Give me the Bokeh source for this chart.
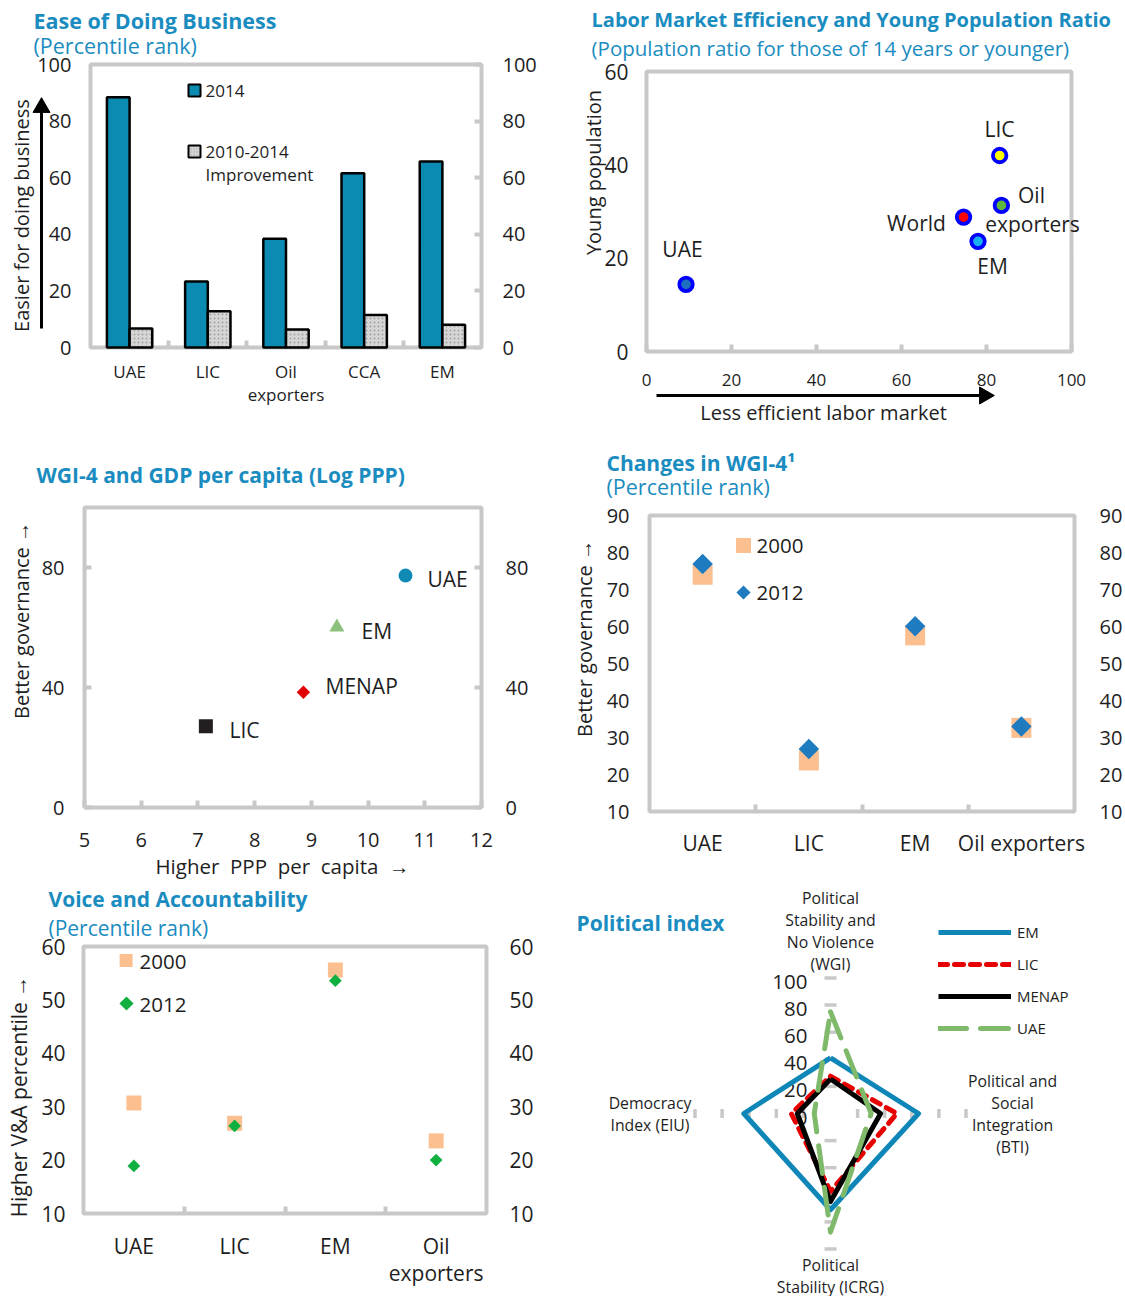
import numpy as np
from bokeh.plotting import figure
from bokeh.models import Range1d, LinearAxis, FixedTicker, Label, Legend, LegendItem
from bokeh.layouts import row, column
from bokeh.embed import file_html
from bokeh.resources import INLINE
from bokeh.core.properties import value

# ---------------------------------------------------------------- data
# Panel 1: Ease of Doing Business (percentile rank)
edb_categories = ["UAE", "LIC", "Oil\nexporters", "CCA", "EM"]
edb_2014 = [88.4, 23.3, 38.4, 61.6, 65.7]
edb_improvement = [6.7, 12.8, 6.4, 11.5, 8.0]
edb_ticks = [0, 20, 40, 60, 80, 100]

# Panel 2: Labor market efficiency vs young population ratio
lab_names = ["UAE", "LIC", "Oil exporters", "World", "EM"]
lab_efficiency = [9.3, 83.1, 83.5, 74.6, 78.0]
lab_young = [14.4, 42.0, 31.3, 28.8, 23.6]
lab_x_ticks = [0, 20, 40, 60, 80, 100]
lab_y_ticks = [0, 20, 40, 60]

# Panel 3: WGI-4 vs GDP per capita (log PPP)
wgi_names = ["UAE", "EM", "MENAP", "LIC"]
wgi_gdp = [10.66, 9.45, 8.86, 7.14]
wgi_gov = [77.3, 60.1, 38.4, 27.1]
wgi_x_ticks = [5, 6, 7, 8, 9, 10, 11, 12]
wgi_y_ticks = [0, 40, 80]

# Panel 4: Changes in WGI-4 (percentile rank)
chg_categories = ["UAE", "LIC", "EM", "Oil exporters"]
chg_2000 = [74.0, 23.8, 57.6, 32.6]
chg_2012 = [76.9, 26.9, 60.1, 33.0]
chg_ticks = [10, 20, 30, 40, 50, 60, 70, 80, 90]

# Panel 5: Voice and Accountability (percentile rank)
va_categories = ["UAE", "LIC", "EM", "Oil\nexporters"]
va_2000 = [30.7, 26.9, 55.6, 23.6]
va_2012 = [18.9, 26.4, 53.6, 20.0]
va_ticks = [10, 20, 30, 40, 50, 60]

# Panel 6: Political index (radar)
pol_axes = ["Political\nStability and\nNo Violence\n(WGI)",
            "Political and\nSocial\nIntegration\n(BTI)",
            "Political\nStability (ICRG)",
            "Democracy\nIndex (EIU)"]
pol_series = ["EM", "LIC", "MENAP", "UAE"]
pol_em = [41, 65, 71, 64]
pol_lic = [27.5, 49, 57.5, 29]
pol_menap = [25.5, 37, 65, 24.5]
pol_uae = [75, 30, 87.5, 12]
pol_ticks = [0, 20, 40, 60, 80, 100]

# ---------------------------------------------------------------- style
FONT = "Open Sans"
DARK = "#1e1e1e"
TITLE_C = "#1a8cc0"
FRAME_C = "#c8c8c8"
TEAL = "#0b8bb1"
PEACH = "#fcc090"
NB = "\u00a0"


class Fr:
    """Canvas of one panel plus the position of its plot box (page pixels)."""
    def __init__(self, canvas, box, xb, yb):
        self.ox, self.oy, self.w, self.h = canvas
        self.L, self.T, self.R, self.B = box
        self.xb, self.yb = xb, yb

    def x(self, px):
        return self.xb[0] + (px - self.L) * (self.xb[1] - self.xb[0]) / (self.R - self.L)

    def y(self, py):
        return self.yb[0] + (self.B - py) * (self.yb[1] - self.yb[0]) / (self.B - self.T)


def make_fig(F, box=True):
    kw = dict(width=F.w, height=F.h,
              x_range=Range1d(F.x(F.ox), F.x(F.ox + F.w)),
              y_range=Range1d(F.y(F.oy + F.h), F.y(F.oy)),
              min_border=0, min_border_left=0, min_border_right=0,
              min_border_top=0, min_border_bottom=0, title=None,
              output_backend="svg", toolbar_location=None, tools="")
    if not box:
        kw.update(x_axis_location=None, y_axis_location=None)
    p = figure(**kw)
    p.outline_line_color = None
    p.grid.visible = False
    p.background_fill_color = "white"
    p.border_fill_color = "white"
    if box:
        p.quad(left=[F.xb[0]], right=[F.xb[1]], bottom=[F.yb[0]], top=[F.yb[1]],
               fill_color=None, line_color=FRAME_C, line_width=4)
        p.xaxis[0].fixed_location = F.yb[0]
        p.yaxis[0].fixed_location = F.xb[0]
    return p


def right_axis(p, F):
    ax = LinearAxis(fixed_location=F.xb[1])
    p.add_layout(ax, "right")
    return ax


def style_axis(ax, size, standoff, ticks, labels=None, tick_in=0, minor=None, lh=1.0):
    ax.ticker = FixedTicker(ticks=list(ticks), minor_ticks=list(minor) if minor else [])
    ax.axis_line_color = None
    ax.major_tick_out = 0
    ax.major_tick_in = tick_in
    ax.major_tick_line_color = FRAME_C if tick_in else None
    ax.major_tick_line_width = 4
    ax.minor_tick_out = 0
    ax.minor_tick_in = 7 if minor else 0
    ax.minor_tick_line_color = FRAME_C if minor else None
    ax.minor_tick_line_width = 4
    ax.major_label_standoff = standoff
    ax.major_label_text_font = FONT
    ax.major_label_text_font_size = f"{size}px"
    ax.major_label_text_color = DARK
    ax.major_label_text_line_height = lh
    if labels is not None:
        ax.major_label_overrides = {int(t): l for t, l in zip(ticks, labels)}


def label(p, F, px, py, text, size, color=DARK, bold=False, align="left", angle=0.0):
    p.add_layout(Label(x=F.x(px), y=F.y(py), text=text, text_font=FONT,
                       text_font_size=f"{size}px", text_color=color,
                       text_font_style="bold" if bold else "normal",
                       text_align=align, text_baseline="middle", angle=angle))


def arrow(p, F, x0, y0, x1, y1, head_angle, head_center):
    p.segment([F.x(x0)], [F.y(y0)], [F.x(x1)], [F.y(y1)], line_color="black", line_width=3)
    p.scatter([F.x(head_center[0])], [F.y(head_center[1])], marker="triangle", size=17,
              angle=head_angle, fill_color="black", line_color="black", line_width=1)


# ---------------------------------------------------------------- panel 1
F1 = Fr((0, 0, 562, 440), (90, 64, 481, 347), (-0.5, 4.5), (0, 100))
p1 = make_fig(F1)
x1 = np.arange(len(edb_categories))
p1.vbar(x=x1 - 0.145, top=edb_2014, width=0.29, fill_color=TEAL,
        line_color="black", line_width=2.5)
p1.vbar(x=x1 + 0.145, top=edb_improvement, width=0.29, fill_color="#d6d6d6",
        hatch_pattern=".", hatch_color="#a4a4a4", hatch_scale=4, hatch_weight=1,
        line_color="black", line_width=2.5)
style_axis(p1.xaxis[0], 17, 12, x1, labels=edb_categories,
           minor=[0.5, 1.5, 2.5, 3.5], lh=1.04)
style_axis(p1.yaxis[0], 20, 19, edb_ticks)
style_axis(right_axis(p1, F1), 20, 21, edb_ticks, tick_in=7)
# legend keys
p1.scatter([F1.x(194)], [F1.y(90)], marker="square", size=12, fill_color=TEAL,
           line_color="black", line_width=2)
p1.scatter([F1.x(194)], [F1.y(151)], marker="square", size=12, fill_color="#d6d6d6",
           hatch_pattern=".", hatch_color="#a4a4a4", hatch_scale=3,
           line_color="black", line_width=2)
label(p1, F1, 205, 90, "2014", 17)
label(p1, F1, 205, 151, "2010-2014", 17)
label(p1, F1, 205, 174, "Improvement", 17)
label(p1, F1, 33, 20, "Ease of Doing Business", 21.5, TITLE_C, bold=True)
label(p1, F1, 33, 45, "(Percentile rank)", 21.5, TITLE_C)
label(p1, F1, 21, 215, "Easier for doing business", 20, align="center", angle=np.pi / 2)
arrow(p1, F1, 41, 328, 41, 108, 0.0, (41, 107))

# ---------------------------------------------------------------- panel 2
F2 = Fr((562, 0, 563, 440), (646, 71, 1071, 351), (0, 100), (0, 60))
p2 = make_fig(F2)
lab_inner = ["#1f6fc0", "#ffff00", "#5cb83c", "#ff0000", "#18b0f0"]
p2.scatter(lab_efficiency, lab_young, size=13.5, fill_color=lab_inner,
           line_color="#0000ff", line_width=3.8)
style_axis(p2.xaxis[0], 17, 22, lab_x_ticks, tick_in=7)
style_axis(p2.yaxis[0], 21, 18, lab_y_ticks)
label(p2, F2, 591, 19, "Labor Market Efficiency and Young Population Ratio", 20, TITLE_C, bold=True)
label(p2, F2, 591, 47, "(Population ratio for those of 14 years or younger)", 20.5, TITLE_C)
label(p2, F2, 593, 172, "Young population", 20, align="center", angle=np.pi / 2)
label(p2, F2, 823, 412, "Less efficient labor market", 20, align="center")
arrow(p2, F2, 656, 395, 982, 395, -np.pi / 2, (984, 395))
label(p2, F2, 682, 248, "UAE", 21, align="center")
label(p2, F2, 999, 128, "LIC", 21, align="center")
label(p2, F2, 1031, 194, "Oil", 21, align="center")
label(p2, F2, 1032, 223, "exporters", 21, align="center")
label(p2, F2, 916, 222, "World", 21, align="center")
label(p2, F2, 992, 265, "EM", 21, align="center")

# ---------------------------------------------------------------- panel 3
F3 = Fr((0, 440, 562, 440), (84, 507, 481, 807), (5, 12), (0, 100))
p3 = make_fig(F3)
p3.scatter(wgi_gdp, wgi_gov,
           marker=["circle", "triangle", "square", "square"],
           size=[14, 15, 9.5, 14], angle=[0, 0, np.pi / 4, 0],
           fill_color=["#0e8ab5", "#8cc07c", "#e00000", "#231f20"], line_color=None)
style_axis(p3.xaxis[0], 20, 25, wgi_x_ticks, tick_in=7)
style_axis(p3.yaxis[0], 20, 20, wgi_y_ticks, tick_in=7)
style_axis(right_axis(p3, F3), 20, 24, wgi_y_ticks, tick_in=7)
label(p3, F3, 36, 474, "WGI-4 and GDP per capita (Log PPP)", 21, TITLE_C, bold=True)
label(p3, F3, 282, 865, NB.join(["Higher", "", "PPP", "", "per", "", "capita", "", "\u2192"]),
      20.5, align="center")
label(p3, F3, 21, 620, "Better governance \u2192", 20, align="center", angle=np.pi / 2)
label(p3, F3, 427, 578, "UAE", 21)
label(p3, F3, 361, 630, "EM", 21)
label(p3, F3, 325, 685, "MENAP", 21)
label(p3, F3, 229, 729, "LIC", 21)

# ---------------------------------------------------------------- panel 4
F4 = Fr((562, 440, 563, 440), (649, 515, 1074, 811), (-0.5, 3.5), (10, 90))
p4 = make_fig(F4)
x4 = np.arange(len(chg_categories))
p4.scatter(x4, chg_2000, marker="square", size=20, fill_color=PEACH, line_color=None)
p4.scatter(x4, chg_2012, marker="square", angle=np.pi / 4, size=14.5,
           fill_color="#1f7bc0", line_color=None)
style_axis(p4.xaxis[0], 21, 17, x4, labels=chg_categories, minor=[0.5, 1.5, 2.5])
style_axis(p4.yaxis[0], 20, 20, chg_ticks)
style_axis(right_axis(p4, F4), 20, 25, chg_ticks)
p4.scatter([F4.x(743)], [F4.y(545)], marker="square", size=15, fill_color=PEACH, line_color=None)
p4.scatter([F4.x(743)], [F4.y(592)], marker="square", angle=np.pi / 4, size=10,
           fill_color="#1f7bc0", line_color=None)
label(p4, F4, 756, 545, "2000", 20.5)
label(p4, F4, 756, 592, "2012", 20.5)
label(p4, F4, 606, 462, "Changes in WGI-4\u00b9", 21, TITLE_C, bold=True)
label(p4, F4, 606, 486, "(Percentile rank)", 21.5, TITLE_C)
label(p4, F4, 584, 638, "Better governance \u2192", 20, align="center", angle=np.pi / 2)

# ---------------------------------------------------------------- panel 5
F5 = Fr((0, 880, 562, 416), (83, 946, 486, 1213), (-0.5, 3.5), (10, 60))
p5 = make_fig(F5)
x5 = np.arange(len(va_categories))
p5.scatter(x5, va_2000, marker="square", size=15, fill_color=PEACH, line_color=None)
p5.scatter(x5, va_2012, marker="square", angle=np.pi / 4, size=9,
           fill_color="#10b040", line_color=None)
style_axis(p5.xaxis[0], 21, 18, x5, labels=va_categories, minor=[0.5, 1.5, 2.5], lh=0.99)
style_axis(p5.yaxis[0], 21, 18, va_ticks)
style_axis(right_axis(p5, F5), 21, 23, va_ticks)
p5.scatter([F5.x(125.6)], [F5.y(960)], marker="square", size=13, fill_color=PEACH, line_color=None)
p5.scatter([F5.x(126)], [F5.y(1003)], marker="square", angle=np.pi / 4, size=10,
           fill_color="#10b040", line_color=None)
label(p5, F5, 139, 961, "2000", 20.5)
label(p5, F5, 139, 1004, "2012", 20.5)
label(p5, F5, 48, 898, "Voice and Accountability", 21, TITLE_C, bold=True)
label(p5, F5, 48, 927, "(Percentile rank)", 21, TITLE_C)
label(p5, F5, 18, 1096, "Higher V&A percentile \u2192", 21, align="center", angle=np.pi / 2)

# ---------------------------------------------------------------- panel 6 (radar)
R6 = 135.5  # px for a value of 100
F6 = Fr((562, 880, 563, 416), (830 - R6, 1113 - R6, 830 + R6, 1113 + R6), (-100, 100), (-100, 100))
p6 = make_fig(F6, box=False)
ang = np.deg2rad([90, 0, -90, 180])
S = R6 / 100.0

# gray tick marks along the four spokes
t = np.array(pol_ticks[1:], dtype=float)
hw, hh = 6 / S, 4.5 / S
one = np.ones_like(t)
sx0 = np.concatenate([-hw * one, -hw * one, t, -t])
sx1 = np.concatenate([hw * one, hw * one, t, -t])
sy0 = np.concatenate([t, -t, -hh * one, -hh * one])
sy1 = np.concatenate([t, -t, hh * one, hh * one])
p6.segment(sx0, sy0, sx1, sy1, line_color=FRAME_C, line_width=3.5)

p6.text(x=[F6.x(807)] * len(pol_ticks), y=np.array(pol_ticks, dtype=float) - 3,
        text=[str(v) for v in pol_ticks], text_align="right", text_baseline="middle",
        text_font=value(FONT), text_font_size="20.5px", text_color=DARK)

p6.text(x=[F6.x(830), F6.x(1012), F6.x(830), F6.x(649.5)],
        y=[F6.y(930.5), F6.y(1113.5), F6.y(1275), F6.y(1113.5)],
        text=pol_axes, text_align="center", text_baseline="middle",
        text_line_height=1.0, text_font=value(FONT), text_font_size="15.8px",
        text_color=DARK)


def closed(vals):
    v = np.array(list(vals) + [vals[0]], dtype=float)
    a = np.append(ang, ang[0])
    return v * np.cos(a), v * np.sin(a)


r_em = p6.line(*closed(pol_em), line_color="#0f86b8", line_width=5, line_join="round")
r_lic = p6.line(*closed(pol_lic), line_color="#e60000", line_width=5, line_dash="9 7",
                line_cap="round", line_join="round")
r_menap = p6.line(*closed(pol_menap), line_color="black", line_width=5, line_join="round")
r_uae = p6.line(*closed(pol_uae), line_color="#7fba6a", line_width=5, line_dash="28 14",
                line_cap="round", line_join="round")

leg6 = Legend(items=[LegendItem(label=n, renderers=[r]) for n, r in
                     zip(pol_series, [r_em, r_lic, r_menap, r_uae])],
              location=(376, 258), orientation="vertical",
              glyph_width=73, glyph_height=20, label_height=20, label_standoff=6,
              spacing=12, padding=0, margin=0,
              background_fill_alpha=0, border_line_alpha=0,
              label_text_font=FONT, label_text_font_size="15px", label_text_color=DARK)
p6.add_layout(leg6)
label(p6, F6, 576, 922, "Political index", 21, TITLE_C, bold=True)

# ---------------------------------------------------------------- output
layout = column(row(p1, p2), row(p3, p4), row(p5, p6))
open("out.html", "w").write(file_html(layout, INLINE, title="Charts"))
